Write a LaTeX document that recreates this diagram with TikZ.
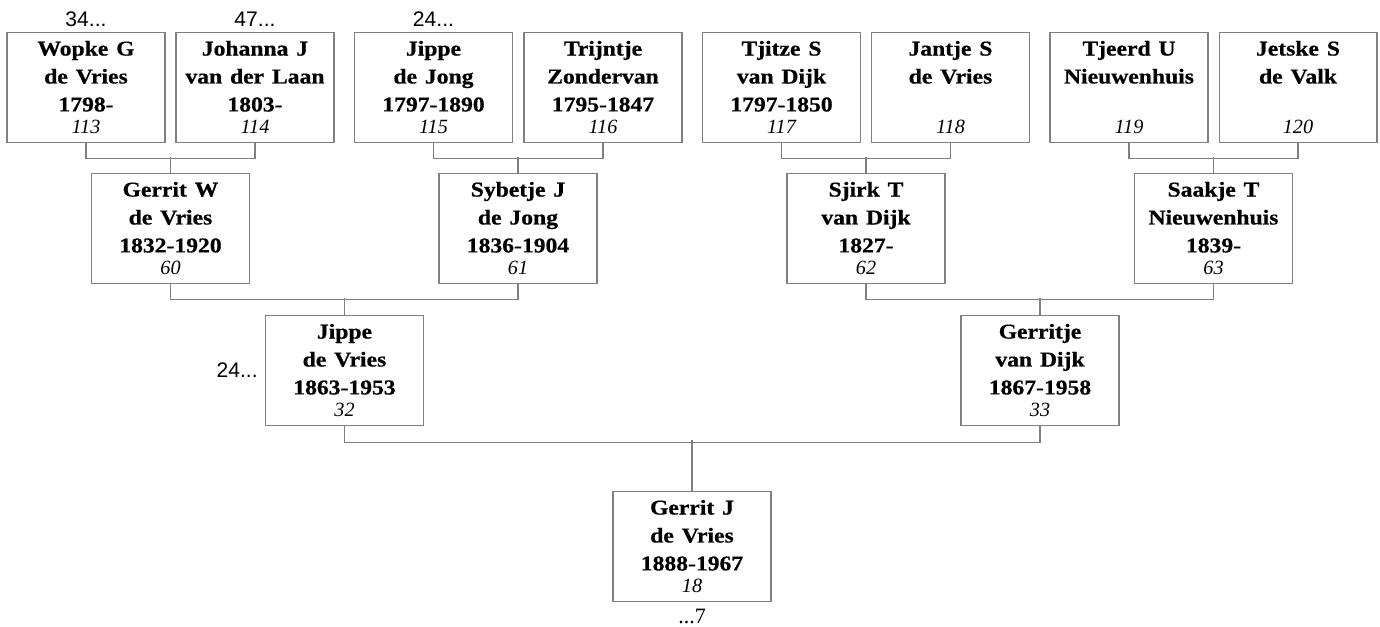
\documentclass[tikz,border=0pt]{standalone}
\usepackage{fontspec}
\usepackage{tikz}
\usetikzlibrary{positioning}
\setmainfont{Liberation Serif}[BoldFeatures={FakeBold=0.6}]
\newfontfamily\tagfont{Liberation Sans}
\definecolor{linegray}{RGB}{128,128,128}
\newcommand{\wide}[1]{\scalebox{1.12}[1]{#1}}
\newcommand{\ancestor}[4]{\wide{#1}\\\wide{#2}\\\wide{#3}\strut\\[-3.4pt]{\fontsize{11.5}{15.9}\selectfont\mdseries\itshape #4}}

\begin{document}
\begin{tikzpicture}[x=0.02cm, y=-0.02cm,
    person/.style={draw=linegray, line width=0.6pt, anchor=north, inner sep=0pt,
      text width=3.16cm, align=center, text height=13.1pt, text depth=49.5pt,
      font=\fontsize{12}{15.9}\selectfont\bfseries},
    link/.style={draw=linegray, line width=0.6pt},
    tag/.style={inner sep=0pt, font=\tagfont\fontsize{12}{14}\selectfont}]
      \useasboundingbox (0,0) rectangle (1380,626);

      % Great-grandparents
      \node[person] (wopke) at (86,32) {\ancestor{Wopke G}{de Vries}{1798-}{113}};
      \node[person] (johanna) at (255,32) {\ancestor{Johanna J}{van der Laan}{1803-}{114}};
      \node[person] (jippedj) at (433.5,32) {\ancestor{Jippe}{de Jong}{1797-1890}{115}};
      \node[person] (trijntje) at (603,32) {\ancestor{Trijntje}{Zondervan}{1795-1847}{116}};
      \node[person] (tjitze) at (781.5,32) {\ancestor{Tjitze S}{van Dijk}{1797-1850}{117}};
      \node[person] (jantje) at (950.5,32) {\ancestor{Jantje S}{de Vries}{}{118}};
      \node[person] (tjeerd) at (1129,32) {\ancestor{Tjeerd U}{Nieuwenhuis}{}{119}};
      \node[person] (jetske) at (1298,32) {\ancestor{Jetske S}{de Valk}{}{120}};

      % Grandparents
      \node[person] (gerritw) at (170.5,173) {\ancestor{Gerrit W}{de Vries}{1832-1920}{60}};
      \node[person] (sybetje) at (518,173) {\ancestor{Sybetje J}{de Jong}{1836-1904}{61}};
      \node[person] (sjirk) at (866,173) {\ancestor{Sjirk T}{van Dijk}{1827-}{62}};
      \node[person] (saakje) at (1213.5,173) {\ancestor{Saakje T}{Nieuwenhuis}{1839-}{63}};

      % Parents
      \node[person] (jippe) at (344.5,315) {\ancestor{Jippe}{de Vries}{1863-1953}{32}};
      \node[person] (gerritje) at (1040,315) {\ancestor{Gerritje}{van Dijk}{1867-1958}{33}};

      % Root
      \node[person] (gerritj) at (692,491) {\ancestor{Gerrit J}{de Vries}{1888-1967}{18}};

      % Continuation marks
      \node[tag, above=2.8pt of wopke] (more34) {34...};
      \node[tag, above=2.8pt of johanna] (more47) {47...};
      \node[tag, above=2.8pt of jippedj] (more24a) {24...};
      \node[tag, left=4pt of jippe] (more24b) {24...};
      \node[inner sep=0pt, font=\fontsize{12.5}{14}\selectfont, below=4pt of gerritj] (more7) {...7};

      % Lines
      \draw[link] (wopke.south) -- ++(0,15) -| (johanna.south);
      \draw[link] (gerritw.north) -- ++(0,-16);
      \draw[link] (jippedj.south) -- ++(0,15) -| (trijntje.south);
      \draw[link] (sybetje.north) -- ++(0,-16);
      \draw[link] (tjitze.south) -- ++(0,15) -| (jantje.south);
      \draw[link] (sjirk.north) -- ++(0,-16);
      \draw[link] (tjeerd.south) -- ++(0,15) -| (jetske.south);
      \draw[link] (saakje.north) -- ++(0,-16);
      \draw[link] (gerritw.south) -- ++(0,15) -| (sybetje.south);
      \draw[link] (jippe.north) -- ++(0,-17);
      \draw[link] (sjirk.south) -- ++(0,15) -| (saakje.south);
      \draw[link] (gerritje.north) -- ++(0,-17);
      \draw[link] (jippe.south) -- ++(0,16) -| (gerritje.south);
      \draw[link] (gerritj.north) -- ++(0,-51);
    \end{tikzpicture}
\end{document}
